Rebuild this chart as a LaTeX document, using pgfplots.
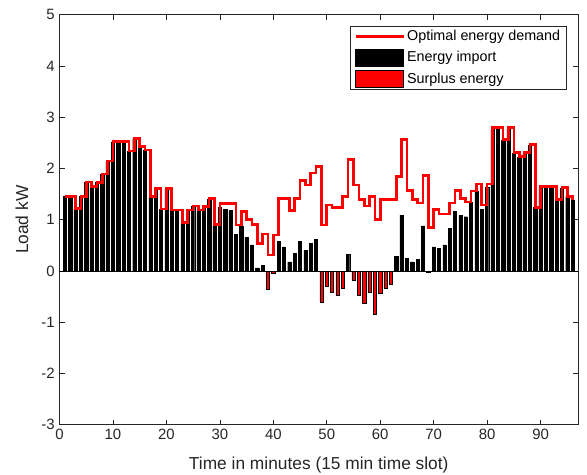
\documentclass[border=0pt]{standalone}
\usepackage{fontspec}
\setmainfont{Liberation Sans}
\usepackage{pgfplots}
\pgfplotsset{compat=1.18}
\usepackage{pgfplotstable}

\pgfplotstableread{
x imp sur dem
1 1.46 0 1.46
2 1.46 0 1.46
3 1.22 0 1.22
4 1.46 0 1.46
5 1.73 0 1.74
6 1.63 0 1.65
7 1.73 0 1.73
8 1.89 0 1.89
9 2.14 0 2.15
10 2.52 0 2.53
11 2.52 0 2.53
12 2.52 0 2.53
13 2.33 0 2.34
14 2.58 0 2.59
15 2.43 0 2.43
16 2.36 0 2.36
17 1.45 0 1.45
18 1.60 0 1.61
19 1.21 0 1.21
20 1.60 0 1.61
21 1.18 0 1.19
22 1.18 0 1.19
23 0.94 0 0.95
24 1.18 0 1.19
25 1.26 0 1.27
26 1.18 0 1.19
27 1.24 0 1.26
28 1.40 0 1.42
29 0.89 0 0.91
30 1.24 0 1.32
31 1.20 0 1.32
32 1.18 0 1.32
33 0.72 0 0.90
34 0.88 0 1.16
35 0.66 0 1.01
36 0.51 0 0.91
37 0.06 0 0.54
38 0.11 0 0.72
39 0 -0.36 0.31
40 0 -0.04 0.70
41 0.58 0 1.41
42 0.47 0 1.41
43 0.18 0 1.18
44 0.34 0 1.41
45 0.58 0 1.76
46 0.40 0 1.68
47 0.54 0 1.91
48 0.62 0 2.04
49 0 -0.60 0.90
50 0 -0.29 1.29
51 0 -0.42 1.24
52 0 -0.47 1.24
53 0 -0.33 1.45
54 0.33 0 2.17
55 0 -0.18 1.68
56 0 -0.48 1.40
57 0 -0.62 1.27
58 0 -0.42 1.46
59 0 -0.84 1.01
60 0 -0.44 1.40
61 0 -0.34 1.40
62 0 -0.25 1.40
63 0.28 0 1.84
64 1.09 0 2.56
65 0.25 0 1.57
66 0.18 0 1.39
67 0.23 0 1.33
68 0.88 0 1.87
69 0 -0.03 0.85
70 0.47 0 1.20
71 0.44 0 1.11
72 0.51 0 1.11
73 0.83 0 1.33
74 1.17 0 1.57
75 1.09 0 1.42
76 1.06 0 1.35
77 1.34 0 1.56
78 1.56 0 1.70
79 1.21 0 1.29
80 1.63 0 1.70
81 2.76 0 2.80
82 2.78 0 2.80
83 2.56 0 2.57
84 2.78 0 2.80
85 2.30 0 2.31
86 2.22 0 2.23
87 2.30 0 2.31
88 2.46 0 2.47
89 1.24 0 1.24
90 1.63 0 1.65
91 1.63 0 1.65
92 1.63 0 1.65
93 1.39 0 1.39
94 1.61 0 1.63
95 1.46 0 1.46
96 1.39 0 1.39
}\data

\definecolor{axgray}{rgb}{0.15,0.15,0.15}
\pgfplotsset{
  mylineleg/.style={legend image code/.code={\draw[##1] (0pt,0pt) -- (36pt,0pt);}},
  myboxleg/.style={legend image code/.code={\draw[##1] (0pt,-6.3pt) rectangle (36pt,6.3pt);}},
}

\begin{document}
\begin{tikzpicture}
\begin{axis}[
  name=ax,
  scale only axis,
  width=388.7pt, height=307.4pt,
  xmin=0, xmax=97, ymin=-3, ymax=5,
  xtick={0,10,...,90},
  ytick={-3,-2,...,5},
  tick align=inside,
  xtick pos=both, ytick pos=both,
  major tick length=3.9pt,
  axis line style={axgray, line width=0.5pt},
  every tick/.style={axgray, line width=0.5pt},
  tick label style={font=\fontsize{11.2}{13}\selectfont, text=axgray},
  /pgf/number format/assume math mode=true,
  xlabel={Time in minutes (15 min time slot)},
  ylabel={Load kW},
  label style={font=\fontsize{13}{15}\selectfont, text=axgray},
  xlabel style={at={(axis description cs:0.5,-0.098)}, anchor=center},
  ylabel style={at={(axis description cs:-0.0723,0.5)}, anchor=center},
  legend cell align=left,
  legend style={
    at={(1,1)}, anchor=north east, xshift=-8.5pt, yshift=-8.4pt,
    font=\fontsize{10.75}{12.5}\selectfont,
    draw=axgray, line width=0.5pt,
    inner xsep=3pt, inner ysep=1.5pt,
    row sep=3pt,
    nodes={inner sep=1.6pt},
  },
]
\addlegendimage{mylineleg, red, line width=2pt}
\addlegendentry{Optimal energy demand}
\addlegendimage{myboxleg, fill=black, draw=black, line width=0.4pt}
\addlegendentry{Energy import}
\addlegendimage{myboxleg, fill=red, draw=black, line width=0.4pt}
\addlegendentry{Surplus energy}

\addplot[ybar, bar width=0.6, bar shift=0pt, fill=black, draw=black, line width=0.3pt, forget plot] table[x=x, y=imp] {\data};
\addplot[ybar, bar width=0.6, bar shift=0pt, fill=red, draw=black, line width=0.4pt, forget plot] table[x=x, y=sur] {\data};
\addplot[black, line width=0.5pt, forget plot] coordinates {(0,0) (97,0)};
\addplot[const plot, red, line width=2pt, forget plot] table[x=x, y=dem] {\data};
\end{axis}
\pgfresetboundingbox
\path[use as bounding box] ([xshift=-44.6pt,yshift=-36.93pt]ax.south west) rectangle ([xshift=6.75pt,yshift=11.06pt]ax.north east);
\end{tikzpicture}
\end{document}
